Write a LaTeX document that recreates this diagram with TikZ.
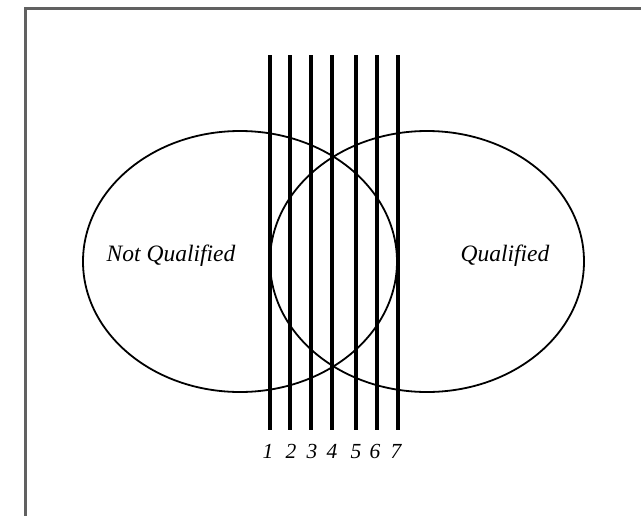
\documentclass[tikz,border=0pt]{standalone}
\usepackage{fontspec}
\setmainfont{Liberation Serif}
\begin{document}
\begin{tikzpicture}[x=1pt,y=-1pt,
  framestyle/.style={draw=black!62, line width=3pt},
  ring/.style={draw=black, line width=1.8pt},
  bar/.style={draw=black, line width=3.2pt},
  word/.style={font=\fontsize{23.5}{27}\selectfont\itshape, inner sep=0pt},
  digit/.style={font=\fontsize{21.5}{24}\selectfont\itshape, inner sep=0pt, anchor=base}]
\useasboundingbox (0,0) rectangle (641,515);
\fill[white] (0,0) rectangle (641,515);
\draw[framestyle] (25,516) -- (25,8.5) -- (642,8.5);
\draw[ring] (240,261.5) ellipse [x radius=157, y radius=130.5];
\draw[ring] (427,261.5) ellipse [x radius=157, y radius=130.5];
\foreach \i/\x/\lx in {1/270/268,2/290/291,3/311/312,4/332/332,5/356/356,6/377/375,7/398/396} {
  \coordinate (t\i) at (\x,55);
  \coordinate (b\i) at (\x,430);
  \draw[bar] (t\i) -- (b\i);
  \node[digit] (n\i) at (\lx,458) {\i};
}
\node[word] (nq) at (171,256) {Not Qualified};
\node[word] (q) at (505,256) {Qualified};
\end{tikzpicture}
\end{document}
